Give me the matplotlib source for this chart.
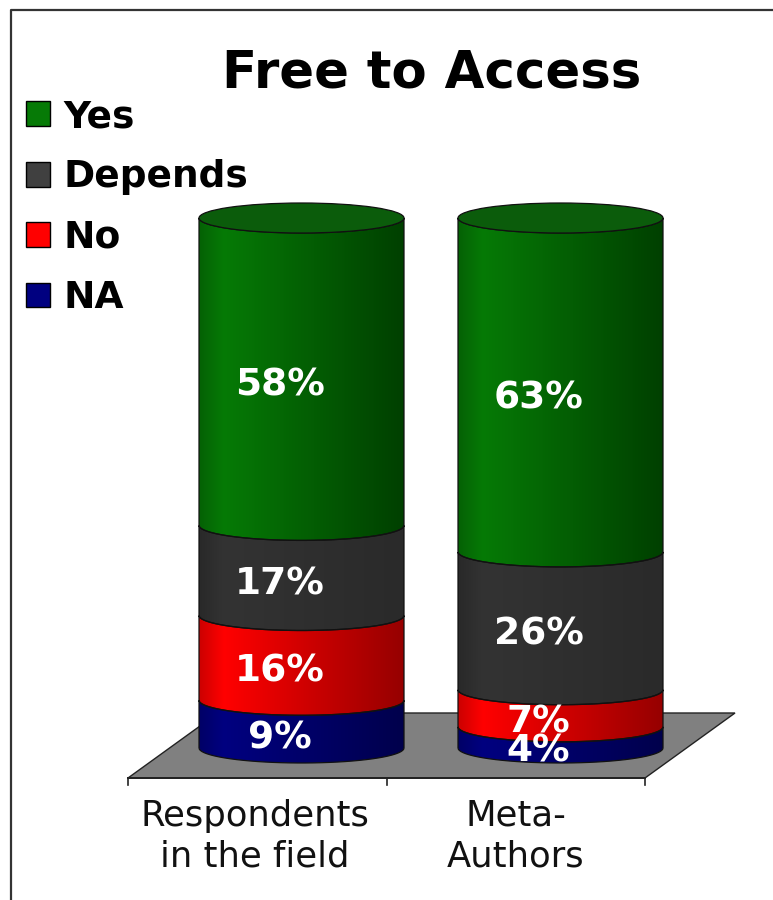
import numpy as np
import matplotlib
matplotlib.use("Agg")
import matplotlib.pyplot as plt
from matplotlib.patches import Patch, PathPatch, Polygon, Ellipse
from matplotlib.path import Path
from matplotlib.transforms import Affine2D, ScaledTranslation

W, H = 773, 900

title = "Free to Access"
categories = ["Respondents\nin the field", "Meta-\nAuthors"]
series = ["NA", "No", "Depends", "Yes"]
na = [9, 4]
no = [16, 7]
depends = [17, 26]
yes = [58, 63]
values = [na, no, depends, yes]

# left colour, right colour of the shading on each band
colors = {"NA": ("#000080", "#00004c"),
          "No": ("#ff0000", "#960000"),
          "Depends": ("#333333", "#2a2a2a"),
          "Yes": ("#067a06", "#004000")}
top_color = "#0b5c0b"

fig = plt.figure(figsize=(W / 100, H / 100), dpi=100)
ax = fig.add_axes([0, 0, 1, 1])
ax.axis("off")

# pixels of the reference -> figure, for frame, floor and text
px = Affine2D().scale(1 / W, -1 / H).translate(0, 1) + fig.transFigure

# category 0 sits at pixel 301.5, one category = 259 px, 0% at pixel 748, 1% = 5.30 px
xunit, yunit = 259.0, 5.30
xlim = (-301.5 / xunit, (W - 301.5) / xunit)
ylim = (-(H - 748) / yunit, 748 / yunit)
half = 102.5 / xunit
ry = 15 / yunit


def band_path(x, y0, y1):
    t = np.linspace(np.pi, 2 * np.pi, 40)
    xs = x + half * np.cos(t)
    low = np.column_stack([xs, y0 + ry * np.sin(t)])
    up = np.column_stack([xs, y1 + ry * np.sin(t)])[::-1]
    return Path(np.vstack([low, up, low[:1]]))


def shade(c0, c1):
    c0 = np.array(matplotlib.colors.to_rgb(c0))
    c1 = np.array(matplotlib.colors.to_rgb(c1))
    t = np.linspace(0, 1, 200)
    # brightest a bit in from the left edge
    f = np.clip((t - 0.12) / 0.88, 0, 1)[:, None]
    rgb = c0 + (c1 - c0) * f
    rgb[t < 0.12] *= (0.8 + 0.2 * t[t < 0.12] / 0.12)[:, None]
    return rgb[None, :, :]


# frame
ax.add_line(plt.Line2D([11, 11, W], [H, 10, 10], color="#333333", lw=1.6, transform=px))

# floor
floor = [(128, 778), (645, 778), (735, 713), (218, 713)]
ax.add_patch(Polygon(floor, closed=True, fc="#808080", ec="#222222", lw=1.0, transform=px))
ax.add_line(plt.Line2D([128, 645], [778, 778], color="#222222", lw=1.4, transform=px))
for tx in [128, 387, 645]:
    ax.add_line(plt.Line2D([tx, tx], [778, 785], color="#222222", lw=1.2, transform=px))

for i in range(len(categories)):
    bottom = 0
    for name, vals in zip(series, values):
        top = bottom + vals[i]
        p = band_path(i, bottom, top)
        patch = PathPatch(p, fc="none", ec="#111111", lw=0.9, zorder=3)
        ax.add_patch(patch)
        im = ax.imshow(shade(*colors[name]), extent=(i - half, i + half, bottom - ry, top + ry),
                       aspect="auto", interpolation="bilinear", zorder=2)
        im.set_clip_path(patch)
        # label sits on the front face of the band, left of the middle
        offset = ScaledTranslation(-22 / 100, -14 / 100, fig.dpi_scale_trans)
        ax.text(i, bottom + vals[i] / 2, "%d%%" % vals[i], color="white", fontsize=27,
                fontweight="bold", ha="center", va="center", zorder=5,
                transform=ax.transData + offset)
        bottom = top
    ax.add_patch(Ellipse((i, bottom), 2 * half, 2 * ry, fc=top_color, ec="#111111", lw=0.9, zorder=4))

ax.set_xlim(xlim)
ax.set_ylim(ylim)

ax.text(432, 74, title, transform=px, fontsize=37, fontweight="bold", ha="center", va="center", color="black")

for cx, label in zip([255, 516], categories):
    ax.text(cx, 836, label, transform=px, fontsize=25.5, ha="center", va="center",
            linespacing=1.25, color="#111111")

handles = [Patch(fc=colors[s][0], ec="black", lw=1.0, label=s) for s in series[::-1]]
handles[1].set_facecolor("#404040")
leg = ax.legend(handles=handles, loc="upper left", bbox_to_anchor=(26 / W, 1 - 99 / H),
                bbox_transform=fig.transFigure, frameon=False, prop={"size": 27, "weight": "bold"},
                handlelength=0.64, handleheight=0.64, labelspacing=0.65, handletextpad=0.37,
                borderpad=0, borderaxespad=0)

fig.savefig("out.png", dpi=100)
